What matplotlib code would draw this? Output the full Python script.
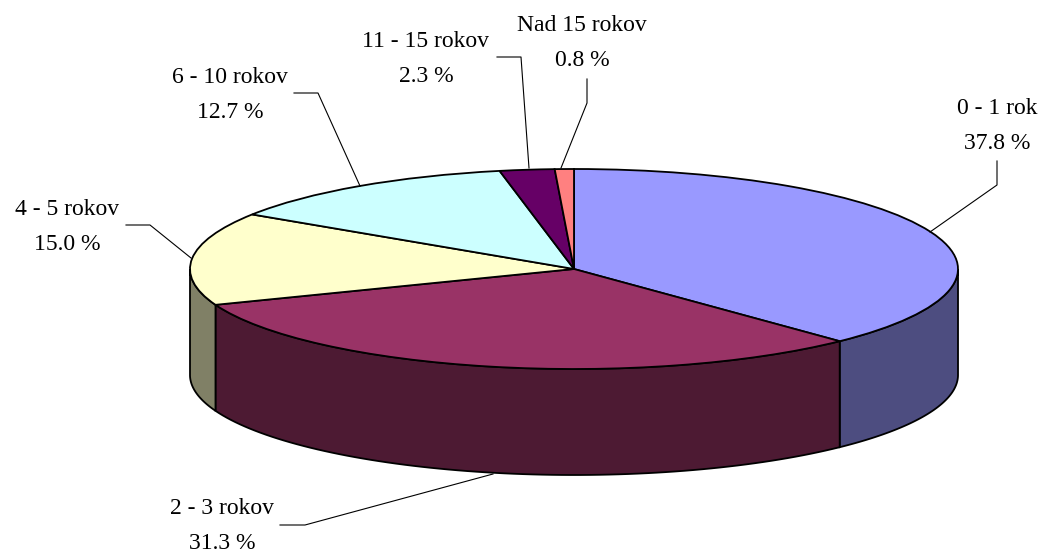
import numpy as np
import matplotlib
matplotlib.use("Agg")
import matplotlib.pyplot as plt

categories = ["0 - 1 rok", "2 - 3 rokov", "4 - 5 rokov", "6 - 10 rokov", "11 - 15 rokov", "Nad 15 rokov"]
values = [37.8, 31.3, 15.0, 12.7, 2.3, 0.8]
colors = ["#9999FF", "#993366", "#FFFFCC", "#CCFFFF", "#660066", "#FF8080"]
side_colors = ["#4D4D80", "#4D1A33", "#808066", "#668080", "#330033", "#804040"]

# label text centre, then the leader line, all in image pixels
label_pos = [(997, 126), (222, 526), (67, 227), (230, 95), (426, 59), (582, 43)]
leaders = [
    [(930, 232), (997, 185), (997, 161)],
    [(493, 474), (305, 525), (280, 525)],
    [(191, 258), (150, 225), (126, 225)],
    [(360, 186), (318, 93), (294, 93)],
    [(529, 168), (521, 57), (497, 57)],
    [(561, 168), (587, 103), (587, 79)],
]

cx, cy, rx, ry, depth = 574, 269, 384, 100, 106


def to_data(px, py):
    return (px - cx) / rx, (cy - py) / ry


fig = plt.figure(figsize=(10.42, 5.52), dpi=100)
ax = fig.add_axes([0, 0, 1, 1])
wedges, _ = ax.pie(values, colors=colors, startangle=90, counterclock=False, normalize=True,
                   wedgeprops={"edgecolor": "black", "linewidth": 1.3, "zorder": 3})
ax.set_aspect("auto")
ax.set_xlim(to_data(0, 0)[0], to_data(1042, 0)[0])
ax.set_ylim(to_data(0, 552)[1], to_data(0, 0)[1])

# side wall of the front half, taken from the wedge angles
d = depth / ry
for w, c in zip(wedges, side_colors):
    a = max(w.theta1 % 360, 180) if w.theta1 % 360 >= 180 else 180
    b = w.theta2 % 360 or 360
    if w.theta1 % 360 > b:
        a, b = w.theta1 % 360, 360
    if b <= 180 or a >= b:
        continue
    t = np.radians(np.linspace(a, b, 80))
    xs = np.r_[np.cos(t), np.cos(t[::-1])]
    ys = np.r_[np.sin(t), np.sin(t[::-1]) - d]
    ax.fill(xs, ys, facecolor=c, edgecolor="black", linewidth=1.3, zorder=2)

for name, val, pos, line in zip(categories, values, label_pos, leaders):
    ax.text(*to_data(*pos), f"{name}\n{val:.1f} %", ha="center", va="center",
            family="Liberation Serif", fontsize=17, linespacing=1.85, color="black")
    lx, ly = zip(*[to_data(*p) for p in line])
    ax.plot(lx, ly, color="black", linewidth=0.8, zorder=4)

fig.savefig("out.png", dpi=100, facecolor="white")
